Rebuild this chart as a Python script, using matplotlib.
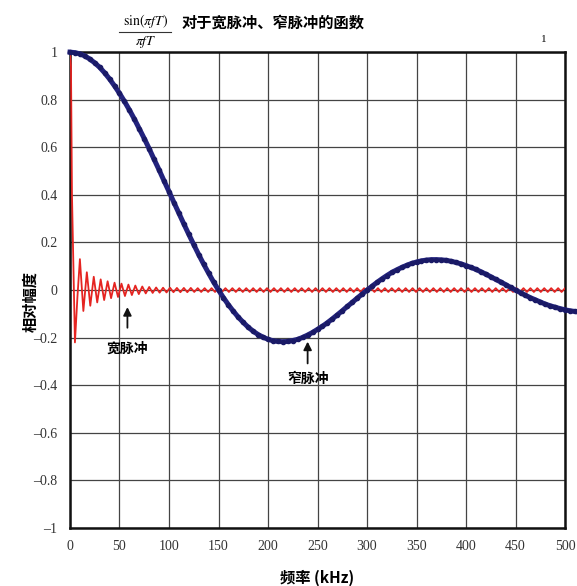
import numpy as np
import matplotlib.pyplot as plt

plt.rcParams['font.family'] = ['Noto Sans CJK SC', 'DejaVu Sans']

narrow_f = np.arange(0, 515, 5)
narrow_y = [1.000, 0.998, 0.993, 0.984, 0.971, 0.955, 0.936, 0.913, 0.887, 0.858,
            0.827, 0.793, 0.757, 0.719, 0.678, 0.637, 0.594, 0.549, 0.505, 0.459,
            0.414, 0.368, 0.323, 0.278, 0.234, 0.191, 0.149, 0.109, 0.071, 0.034,
            0.000, -0.032, -0.062, -0.089, -0.114, -0.136, -0.156, -0.173, -0.187, -0.198,
            -0.207, -0.213, -0.216, -0.217, -0.216, -0.212, -0.207, -0.199, -0.189, -0.178,
            -0.165, -0.152, -0.137, -0.121, -0.104, -0.087, -0.069, -0.052, -0.034, -0.017,
            0.000, 0.016, 0.032, 0.047, 0.061, 0.074, 0.085, 0.095, 0.104, 0.112,
            0.118, 0.123, 0.126, 0.128, 0.128, 0.127, 0.125, 0.121, 0.116, 0.110,
            0.103, 0.095, 0.087, 0.077, 0.067, 0.056, 0.045, 0.034, 0.023, 0.011,
            0.000, -0.011, -0.022, -0.032, -0.041, -0.050, -0.059, -0.066, -0.072, -0.078,
            -0.083, -0.087, -0.090]

# 宽脉冲 (red): steep start, then a fast ripple (half period ~3.5 kHz)
wide_head_f = [0, 1, 2, 5, 7.5]
wide_head_y = [1.00, 0.94, 0.40, -0.22, -0.03]
wide_tail_f = np.arange(10, 501, 3.5)
wide_tail_y = [0.130, -0.088, 0.075, -0.066, 0.056, -0.052, 0.045, -0.042, 0.037, -0.034,
               0.031, -0.029, 0.027, -0.025, 0.023, -0.021, 0.019, -0.017, 0.015, -0.014,
               0.013, -0.012, 0.011, -0.011, 0.010, -0.010, 0.010, -0.009, 0.009, -0.009,
               0.009, -0.009, 0.009, -0.008, 0.008, -0.008, 0.008, -0.008, 0.008, -0.008,
               0.008, -0.008, 0.008, -0.008, 0.008, -0.008, 0.008, -0.008, 0.008, -0.008,
               0.008, -0.008, 0.008, -0.008, 0.008, -0.008, 0.008, -0.008, 0.008, -0.008,
               0.008, -0.008, 0.008, -0.008, 0.008, -0.008, 0.008, -0.008, 0.008, -0.008,
               0.008, -0.008, 0.008, -0.008, 0.008, -0.008, 0.008, -0.008, 0.008, -0.008,
               0.008, -0.008, 0.008, -0.008, 0.008, -0.008, 0.008, -0.008, 0.008, -0.008,
               0.008, -0.008, 0.008, -0.008, 0.008, -0.008, 0.008, -0.008, 0.008, -0.008,
               0.008, -0.008, 0.008, -0.008, 0.008, -0.008, 0.008, -0.008, 0.008, -0.008,
               0.008, -0.008, 0.008, -0.008, 0.008, -0.008, 0.008, -0.008, 0.008, -0.008,
               0.008, -0.008, 0.008, -0.008, 0.008, -0.008, 0.008, -0.008, 0.008, -0.008,
               0.008, -0.008, 0.008, -0.008, 0.008, -0.008, 0.008, -0.008, 0.008, -0.008,
               0.008]

xticks = [0, 50, 100, 150, 200, 250, 300, 350, 400, 450, 500]
yticks = [1, 0.8, 0.6, 0.4, 0.2, 0, -0.2, -0.4, -0.6, -0.8, -1]
ytick_labels = ['1', '0.8', '0.6', '0.4', '0.2', '0', '\u20130.2', '\u20130.4', '\u20130.6', '\u20130.8', '\u20131']

fig = plt.figure(figsize=(5.77, 5.86), dpi=100)
ax = fig.add_axes([0.1213, 0.099, 0.858, 0.812])

wide_f = list(wide_head_f) + list(wide_tail_f)
wide_y = list(wide_head_y) + list(wide_tail_y)
ax.plot(wide_f, wide_y, color='#e52421', lw=1.3, zorder=3)
ax.plot(narrow_f, narrow_y, color='#23237e', lw=3.6, marker='o', ms=3.0,
        mec='#1a1a66', mfc='#1a1a66', zorder=4, clip_on=False)

ax.set_xlim(0, 500)
ax.set_ylim(-1, 1)
ax.set_xticks(xticks)
ax.set_yticks(yticks)
ax.set_xticklabels([str(t) for t in xticks], family='Liberation Serif', fontsize=10, color='#333333')
ax.set_yticklabels(ytick_labels, family='Liberation Serif', fontsize=10, color='#333333')
ax.tick_params(length=0, pad=9)
ax.grid(True, color='#444444', lw=0.9)
ax.set_axisbelow(True)
for s in ax.spines.values():
    s.set_linewidth(1.8)
    s.set_color('#111111')

ax.set_xlabel('频率 (kHz)', fontsize=11, fontweight='bold', labelpad=12)
ax.set_ylabel('相对幅度', fontsize=11, fontweight='bold')
ax.yaxis.set_label_coords(-0.064, 0.475)

# arrows + labels
ax.annotate('', xy=(58, -0.06), xytext=(58, -0.17),
            arrowprops=dict(arrowstyle='-|>', color='#111111', lw=1.3, mutation_scale=12))
ax.text(58, -0.245, '宽脉冲', ha='center', va='center', fontsize=10, fontweight='bold')
ax.annotate('', xy=(240, -0.205), xytext=(240, -0.32),
            arrowprops=dict(arrowstyle='-|>', color='#111111', lw=1.3, mutation_scale=12))
ax.text(240, -0.375, '窄脉冲', ha='center', va='center', fontsize=10, fontweight='bold')

# title
fig.text(0.252, 0.964, r'$\mathrm{sin}(\pi fT)$', ha='center', va='center', fontsize=10,
         math_fontfamily='stix')
fig.lines.append(plt.Line2D([0.207, 0.297], [0.946, 0.946], transform=fig.transFigure,
                            color='#333333', lw=0.8))
fig.text(0.252, 0.928, r'$\pi fT$', ha='center', va='center', fontsize=10, math_fontfamily='stix')
fig.text(0.315, 0.962, '对于宽脉冲、窄脉冲的函数', ha='left', va='center', fontsize=11,
         fontweight='bold')
fig.text(0.942, 0.932, '1', ha='center', va='center', fontsize=8, family='Liberation Serif')

fig.savefig('out.png', dpi=100)
